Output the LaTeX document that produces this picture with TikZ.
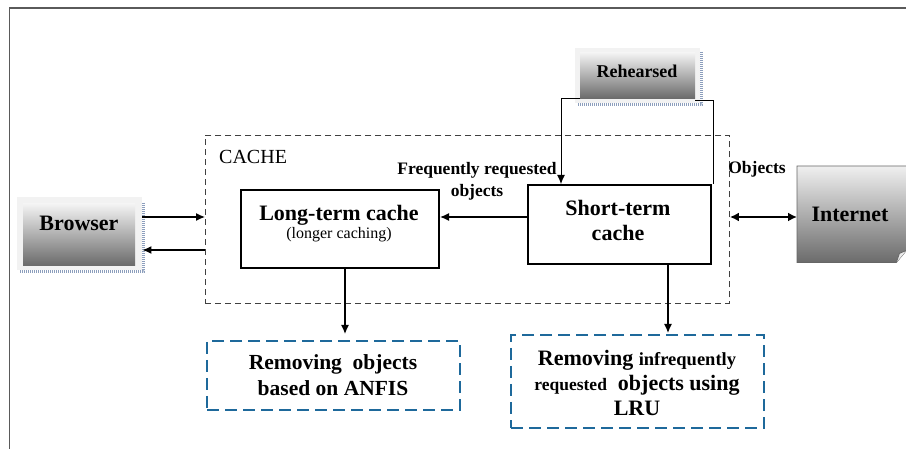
\documentclass[tikz,border=0pt]{standalone}
\usepackage{fontspec}
\setmainfont{Liberation Serif}
\usetikzlibrary{arrows.meta,calc}
\definecolor{boxblue}{RGB}{30,105,155}
\definecolor{hatchc}{RGB}{140,158,188}
\definecolor{framec}{RGB}{90,90,90}
\newcommand{\fs}[2]{\fontsize{#1}{#2}\selectfont}
\begin{document}
\begin{tikzpicture}[x=1pt,y=-1pt,
  arr/.style={-{Latex[length=9pt,width=8pt]}, line width=1.3pt},
  dblarr/.style={{Latex[length=9pt,width=9pt]}-{Latex[length=9pt,width=9pt]}, line width=2.2pt},
  solidbox/.style={draw, line width=2pt, inner sep=0pt, align=center, anchor=north west},
  bluebox/.style={draw=boxblue, line width=2pt, dash pattern=on 12pt off 6pt, inner sep=0pt, align=center, anchor=north west},
  cachebox/.style={draw=black!75, line width=0.9pt, dash pattern=on 6pt off 4pt, inner sep=0pt, anchor=north west},
  bgbox/.style={fill=black!5, inner sep=0pt, anchor=north west},
  shadebox/.style={top color=black!4, bottom color=black!58, inner sep=0pt, anchor=north west, align=center},
  hatch/.style={draw=hatchc, line width=3pt, dash pattern=on 1pt off 1pt},
  lbl/.style={inner sep=0pt, align=center}
]
\useasboundingbox (0,0) rectangle (906,449);
% frame
\draw[framec, line width=1.6pt] (9.5,449) -- (9.5,8) -- (906,8);

% cache region
\node[cachebox, minimum width=524pt, minimum height=168pt] (cache) at (205,135) {};
\node[lbl, anchor=west, font=\fs{20}{24}] (cachelbl) at (219,157) {CACHE};

% long-term and short-term
\node[solidbox, minimum width=198pt, minimum height=78pt] (lt) at (240,189) {};
\node[lbl] (lttext) at (339,224) {{\fs{22}{23}\bfseries Long-term cache}\\[1pt]{\fs{16}{20}(longer caching)}};
\node[solidbox, minimum width=183pt, minimum height=79pt] (st) at (527,184) {};
\node[lbl, font=\fs{22}{25}\bfseries] (sttext) at (618,220) {Short-term\\cache};

% browser
\node[bgbox, minimum width=125pt, minimum height=73pt] (browserbg) at (17,197) {};
\draw[hatch] ($(browserbg.north east)+(1.5,6)$) -- ($(browserbg.south east)+(1.5,1.5)$) -- ($(browserbg.south west)+(3,1.5)$);
\node[shadebox, minimum width=112pt, minimum height=62pt] (browser) at (23,203) {};
\node[lbl, font=\fs{22}{24}\bfseries] (browsertext) at (79,223) {Browser};

% rehearsed
\node[bgbox, minimum width=125pt, minimum height=55pt] (rehbg) at (575,48) {};
\draw[hatch] ($(rehbg.north east)+(1.5,4)$) -- ($(rehbg.south east)+(1.5,1.5)$) -- ($(rehbg.south west)+(3,1.5)$);
\node[shadebox, minimum width=115pt, minimum height=46pt] (reh) at (580,52) {};
\node[lbl, font=\fs{18}{20}\bfseries] (rehtext) at (637,71) {Rehearsed};

% internet
\node[inner sep=0pt, anchor=north west, minimum width=109pt, minimum height=96pt] (inet) at (797,166) {};
\shade[top color=black!6, bottom color=black!58, draw=black!60, line width=0.8pt]
  (inet.north west) -- (inet.north east) -- ($(inet.south east)+(0,-12)$) -- ($(inet.south east)+(-10,0)$) -- (inet.south west) -- cycle;
\filldraw[fill=black!8, draw=black!60, line width=0.8pt]
  ($(inet.south east)+(-10,0)$) -- ($(inet.south east)+(-7,-9)$) -- ($(inet.south east)+(0,-12)$);
\node[lbl, font=\fs{22}{24}\bfseries] (inettext) at (850,214) {Internet};

% removal boxes
\node[bluebox, minimum width=253pt, minimum height=69pt] (rmleft) at (206,340) {};
\node[lbl, font=\fs{21.5}{26}\bfseries] (rmlefttext) at (333,375) {Removing\ \ objects\\based on ANFIS};
\node[bluebox, minimum width=253pt, minimum height=93pt] (rmright) at (510,334) {};
\node[lbl, font=\fs{22}{25}\bfseries] (rmrighttext) at (637,383) {Removing {\fs{18.5}{25}infrequently}\\{\fs{17.5}{25}requested}\ \ objects using\\LRU};

% labels
\node[lbl, font=\fs{17.5}{22}\bfseries] (freq) at (477,181) {Frequently requested\\objects};
\node[lbl, font=\fs{17.5}{20}\bfseries] (objlbl) at (757,169) {Objects};

% connectors
\draw[arr] (browserbg.east |- 0,217) -- (cache.west |- 0,217);
\draw[arr] (cache.west |- 0,250) -- (browserbg.east |- 0,250);
\draw[arr] (st.west |- 0,217) -- (lt.east |- 0,217);
\draw[dblarr] (cache.east |- 0,217) -- (inet.west |- 0,217);
\coordinate (rl) at (561,99);
\coordinate (rr) at (713,101);
\draw[arr, line width=1pt] (reh.south west |- rl) -- (rl) -- (rl |- st.north);
\draw[line width=1pt] (reh.south east |- rr) -- (rr) -- (rr |- st.north);
\coordinate (ltdown) at (345,267);
\coordinate (stdown) at (668,263);
\draw[arr] (ltdown |- lt.south) -- ($(ltdown |- rmleft.north)+(0,-6)$);
\draw[arr] (stdown |- st.south) -- ($(stdown |- rmright.north)+(0,-1)$);
\end{tikzpicture}
\end{document}
